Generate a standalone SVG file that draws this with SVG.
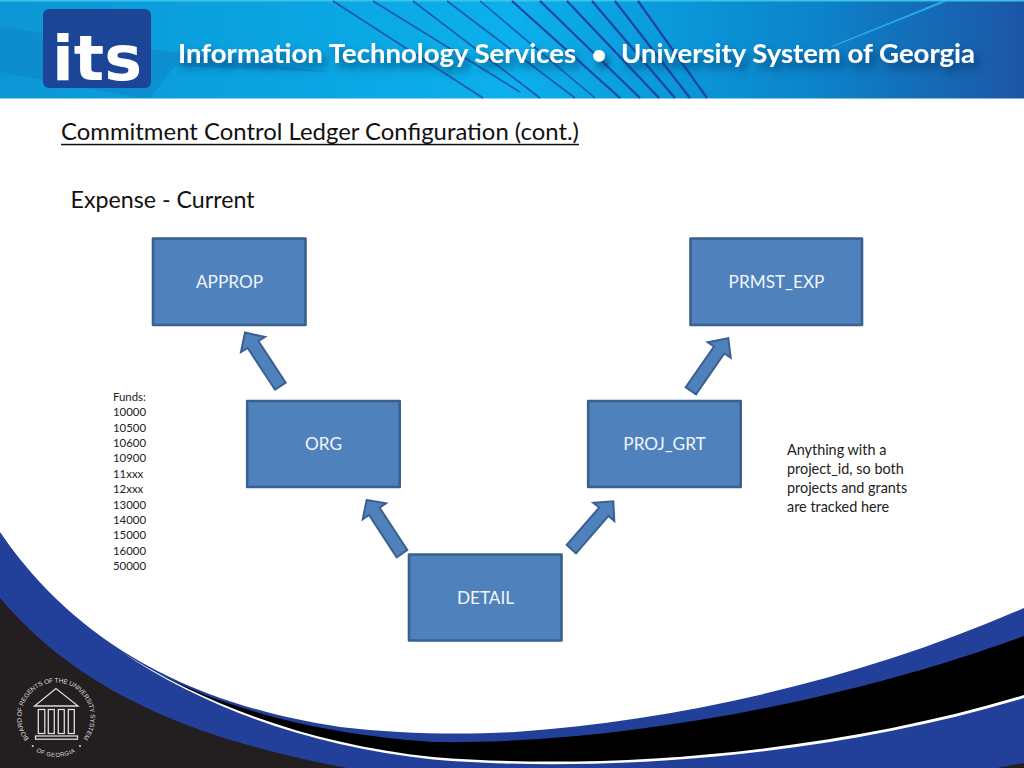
<svg xmlns="http://www.w3.org/2000/svg" width="1024" height="768" viewBox="0 0 1024 768">
<style>
.box{fill:#4f81bd;stroke:#3a6090;stroke-width:2.6;stroke-linejoin:round}
.arrow{fill:#4f81bd;stroke:#3a6090;stroke-width:2;stroke-linejoin:miter}
.lbl{font-family:"Lato","Liberation Sans",sans-serif;font-size:17.2px;fill:#f2f6fb;text-anchor:middle}
.h1{font-family:"Lato","Liberation Sans",sans-serif;font-size:24px;fill:#111}
.small{font-family:"Lato","Liberation Sans",sans-serif;font-size:11.4px;fill:#222}
.note{font-family:"Lato","Liberation Sans",sans-serif;font-size:14.4px;fill:#222}
.hdr{font-family:"Lato","Liberation Sans",sans-serif;font-weight:700;font-size:27px;fill:#fff}
.ray{stroke:#1a50a8;stroke-width:1.6;fill:none;opacity:.9}
.ray2{stroke:#1a45a2;stroke-width:2.2;fill:none}
.seal{fill:none;stroke:#dcdcdc;stroke-width:1.3}
.sealt{font-family:"Liberation Sans",sans-serif;fill:#dcdcdc}
</style>
<defs>
<linearGradient id="hg" x1="0" x2="1" y1="0" y2="0">
<stop offset="0" stop-color="#0d96d6"/>
<stop offset=".25" stop-color="#0aa3e0"/>
<stop offset=".5" stop-color="#0cb0ec"/>
<stop offset=".64" stop-color="#0a9bdc"/>
<stop offset=".8" stop-color="#0c83ca"/>
<stop offset="1" stop-color="#1c56a6"/>
</linearGradient>
<filter id="sh" x="-5%" y="-60%" width="110%" height="250%">
<feDropShadow dx="4" dy="6" stdDeviation="4" flood-color="#0a3566" flood-opacity=".75"/>
</filter>
<filter id="soft" x="-5%" y="-5%" width="110%" height="110%"><feGaussianBlur stdDeviation=".5"/></filter>
<path id="ringTop" d="M29,738.600 A34.500,34.500 0 1 1 83,738.600"/>
<path id="ringBot" d="M36,751.500 A39.500,39.500 0 0 0 76,751.500"/>
</defs>

<rect width="1024" height="768" fill="#fff"/>

<g id="header">
<rect width="1024" height="98.500" fill="url(#hg)"/>
<rect width="1024" height="1.500" fill="#3cc3e8"/>
<path d="M0,27 L170,52 L330,72 L175,66 L150,98 L140,98 L0,72Z" fill="#0b85c8" opacity=".55" filter="url(#soft)"/>
<g class="ray">
<path d="M333,1 L483,98"/><path d="M373,1 L520,92"/><path d="M413,1 L540,98"/><path d="M447,1 L575,98"/><path d="M480,1 L595,98"/>
</g>
<g class="ray2">
<path d="M512,1 L620,98"/><path d="M540,1 L640,98"/><path d="M567,1 L659,98"/><path d="M592,1 L675,98"/><path d="M615,1 L690,98"/><path d="M638,1 L707,98"/>
</g>
<path d="M829,47 L942,1 L948,1 L835,46Z" fill="#2aa8e8"/>
<g id="logo">
<rect x="43" y="9" width="108" height="79" rx="6" fill="#1c4597"/>
<text x="52" y="80" font-family="DejaVu Sans" font-weight="700" font-size="62" fill="#fff" textLength="90" lengthAdjust="spacingAndGlyphs">its</text>
</g>
<g filter="url(#sh)">
<text class="hdr" x="178" y="63" textLength="398" lengthAdjust="spacingAndGlyphs">Information Technology Services</text>
<text class="hdr" x="599" y="64" text-anchor="middle">•</text>
<text class="hdr" x="621" y="63" textLength="354" lengthAdjust="spacingAndGlyphs">University System of Georgia</text>
</g>
</g>

<g id="footer">
<path d="M0,532 C60,620 160,700 340,727 C400,734 460,735 515,732 C680,720 860,680 1024,608 L1024,768 L0,768Z" fill="#22409a"/>
<path d="M0,598 C70,680 170,735 347,768 L0,768Z" fill="#231f20"/>
<path d="M997,768 L1024,763 L1024,768Z" fill="#231f20"/>
<path d="M120,651 C190,697 290,732 433,742 C620,745 850,700 1024,636 L1024,696 C830,755 600,772 433,758 C310,745 205,705 120,651Z" fill="#000"/>
<path d="M120,651 C205,705 310,744 433,757 C600,771 830,754 1024,695 L1024,698 C830,757 600,773.500 433,759.500 C310,746.500 205,708 120,651Z" fill="#fff"/>
<g id="seal">
<path class="seal" d="M56,688.500 L34.500,706 L78,706Z"/>
<rect class="seal" x="38.300" y="709.500" width="6.500" height="24"/>
<rect class="seal" x="48.300" y="709.500" width="6" height="24"/>
<rect class="seal" x="58.300" y="709.500" width="6" height="24"/>
<rect class="seal" x="68.300" y="709.500" width="6" height="24"/>
<rect class="seal" x="35.500" y="736" width="42" height="3.200"/>
<text class="sealt" font-size="6.500"><textPath href="#ringTop" textLength="154" lengthAdjust="spacing">BOARD OF REGENTS OF THE UNIVERSITY SYSTEM</textPath></text>
<text class="sealt" font-size="6"><textPath href="#ringBot" textLength="41" lengthAdjust="spacing">OF GEORGIA</textPath></text>
<circle cx="32.700" cy="746" r="1" fill="#dcdcdc"/>
<circle cx="80" cy="746" r="1" fill="#dcdcdc"/>
</g>
</g>

<g id="connectors">
<polygon class="arrow" points="245,332.500 265,337 258.400,341 285.700,382.700 275,389.700 247.700,348 241,352"/>
<polygon class="arrow" points="366.700,500 386,503.300 379.600,507.700 407.300,550 396.700,557.300 369,515 362.700,519.300"/>
<polygon class="arrow" points="613.300,501.300 614.300,521 608.500,515.900 576,553.300 566.700,545 599.200,507.600 593.300,502.700"/>
<polygon class="arrow" points="728.300,338.300 730.700,357.700 724.300,353.500 696,394.300 685.700,387.300 714,346.500 707.700,342.300"/>
</g>

<g id="title">
<text class="h1" x="61" y="140" textLength="518" lengthAdjust="spacingAndGlyphs">Commitment Control Ledger Configuration (cont.)</text>
<rect x="61" y="143.800" width="518" height="1.500" fill="#111"/>
</g>
<g id="subtitle">
<text class="h1" x="70.500" y="208" textLength="184" lengthAdjust="spacingAndGlyphs">Expense - Current</text>
</g>

<g id="node-approp"><rect class="box" x="153" y="238.500" width="152.500" height="86.500"/><text class="lbl" x="229.500" y="288">APPROP</text></g>
<g id="node-prmst-exp"><rect class="box" x="690.500" y="238.500" width="171.500" height="86.500"/><text class="lbl" x="776.500" y="288">PRMST_EXP</text></g>
<g id="node-org"><rect class="box" x="247.200" y="401" width="152.500" height="86"/><text class="lbl" x="323.500" y="450">ORG</text></g>
<g id="node-proj-grt"><rect class="box" x="588.200" y="401" width="152.500" height="86"/><text class="lbl" x="664.500" y="450">PROJ_GRT</text></g>
<g id="node-detail"><rect class="box" x="409" y="554.500" width="152.500" height="86"/><text class="lbl" x="485.500" y="604">DETAIL</text></g>

<g id="funds-note" class="small">
<text x="113" y="401">Funds:</text>
<text x="113" y="416">10000</text>
<text x="113" y="431.500">10500</text>
<text x="113" y="447">10600</text>
<text x="113" y="462">10900</text>
<text x="113" y="477.500">11xxx</text>
<text x="113" y="493">12xxx</text>
<text x="113" y="508.500">13000</text>
<text x="113" y="524">14000</text>
<text x="113" y="539">15000</text>
<text x="113" y="554.500">16000</text>
<text x="113" y="570">50000</text>
</g>

<g id="project-note" class="note">
<text x="787" y="455">Anything with a</text>
<text x="787" y="474">project_id, so both</text>
<text x="787" y="493">projects and grants</text>
<text x="787" y="512">are tracked here</text>
</g>
</svg>
